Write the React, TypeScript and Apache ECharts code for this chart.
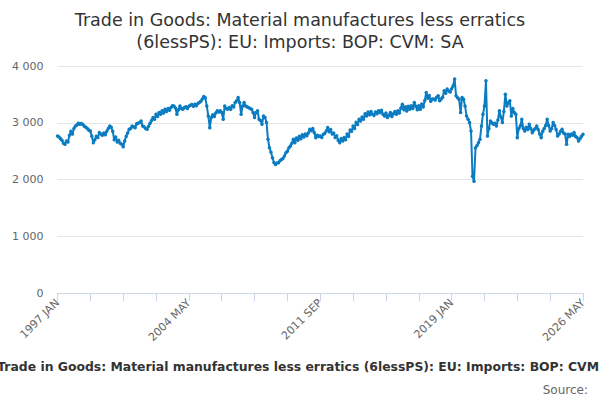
import { useRef, useEffect } from "react";
import * as echarts from "echarts";

const TITLE = "Trade in Goods: Material manufactures less erratics\n(6lessPS): EU: Imports: BOP: CVM: SA";
const SUBTITLE = "Trade in Goods: Material manufactures less erratics (6lessPS): EU: Imports: BOP: CVM: SA";

const START_YEAR = 1997;
const MONTHS = ["JAN", "FEB", "MAR", "APR", "MAY", "JUN", "JUL", "AUG", "SEP", "OCT", "NOV", "DEC"];
const Y_TICKS = [0, 1000, 2000, 3000, 4000];

// monthly values, one row per year (1997 JAN .. 2026 MAY)
const values = [
  2766, 2750, 2720, 2690, 2640, 2620, 2680, 2660, 2780, 2850, 2800, 2900,
  2943, 2960, 2990, 2975, 2985, 2970, 2940, 2920, 2900, 2870, 2855, 2760,
  2650, 2700, 2760, 2740, 2826, 2800, 2780, 2820, 2790, 2850, 2900, 2943,
  2920, 2850, 2700, 2750, 2660, 2690, 2640, 2620, 2578, 2680, 2760, 2820,
  2885, 2900, 2943, 2930, 2914, 2980, 2990, 3003, 3032, 2943, 2930, 2900,
  2885, 2940, 2990, 3040, 3092, 3060, 3150, 3110, 3180, 3150, 3209, 3170,
  3239, 3200, 3250, 3220, 3268, 3300, 3297, 3260, 3150, 3230, 3297, 3250,
  3239, 3270, 3280, 3250, 3290, 3310, 3320, 3290, 3327, 3300, 3340, 3357,
  3380, 3420, 3463, 3440, 3297, 3120, 2914, 3092, 3140, 3110, 3170, 3209,
  3190, 3209, 3180, 3062, 3297, 3250, 3239, 3270, 3239, 3300, 3280, 3357,
  3386, 3445, 3357, 3150, 3297, 3357, 3297, 3280, 3268, 3250, 3239, 3180,
  3092, 3180, 3209, 3062, 3040, 2973, 3120, 3092, 3003, 2708, 2560, 2480,
  2384, 2300, 2265, 2290, 2295, 2330, 2354, 2370, 2413, 2473, 2500, 2560,
  2590, 2640, 2708, 2650, 2730, 2690, 2760, 2720, 2790, 2750, 2800, 2770,
  2820, 2885, 2860, 2900, 2826, 2738, 2780, 2760, 2766, 2740, 2796, 2810,
  2855, 2914, 2840, 2880, 2800, 2820, 2740, 2770, 2690, 2650, 2720, 2680,
  2740, 2700, 2800, 2760, 2870, 2850, 2943, 2900, 3010, 2970, 3060, 3030,
  3100, 3060, 3160, 3120, 3190, 3140, 3200, 3150, 3130, 3190, 3160, 3209,
  3180, 3220, 3150, 3120, 3170, 3092, 3130, 3180, 3110, 3160, 3200, 3150,
  3209, 3170, 3260, 3327, 3230, 3280, 3209, 3290, 3240, 3300, 3250, 3357,
  3290, 3230, 3300, 3239, 3330, 3280, 3390, 3534, 3430, 3480, 3380, 3420,
  3420, 3400, 3450, 3475, 3386, 3420, 3450, 3563, 3520, 3593, 3560, 3540,
  3600, 3650, 3770, 3475, 3440, 3416, 3180, 3445, 3416, 3297, 3120, 3062,
  3003, 2855, 2058, 1970, 2560, 2600, 2650, 2708, 2943, 3150, 3297, 3740,
  2766, 2900, 3032, 3000, 2973, 2990, 2943, 3050, 3209, 3100, 3003, 3200,
  3504, 3297, 3350, 3386, 3120, 3250, 3180, 3150, 2738, 2900, 2943, 3062,
  2900, 2855, 2920, 2880, 2973, 2900, 2826, 2870, 2900, 2943, 2880, 2800,
  2738, 2850, 2900, 2950, 3062, 2950, 2855, 2900, 3003, 2950, 2880, 2766,
  2800, 2850, 2885, 2820, 2800, 2620, 2796, 2760, 2800, 2780, 2826, 2760,
  2740, 2678, 2720, 2760, 2796,
];

const categories = values.map(
  (_, i) => `${START_YEAR + Math.floor(i / 12)} ${MONTHS[i % 12]}`
);

const FONT = "DejaVu Sans";
const LINE_COLOR = "#0b7cc1";

export default function App() {
  const chartRef = useRef<HTMLDivElement>(null);

  useEffect(() => {
    document.body.style.margin = "0";
    if (!chartRef.current) return;
    const chart = echarts.init(chartRef.current, undefined, { renderer: "svg" });
    const option: echarts.EChartsOption = {
      animation: false,
      textStyle: { fontFamily: FONT },
      title: {
        text: TITLE,
        left: "center",
        top: 4,
        textStyle: { fontFamily: FONT, fontSize: 17.5, fontWeight: "normal", color: "#333333", lineHeight: 22 },
      },
      grid: { left: 57.5, right: 17, top: 66, bottom: 107 },
      xAxis: {
        type: "category",
        data: categories,
        boundaryGap: false,
        axisLine: { lineStyle: { color: "#ccd6eb" } },
        axisTick: { show: true, interval: 21, length: 8, lineStyle: { color: "#ccd6eb" } },
        axisLabel: { interval: 87, rotate: 45, color: "#666666", fontSize: 11, margin: 8, fontFamily: FONT },
        splitLine: { show: false },
      },
      yAxis: {
        type: "value",
        min: Y_TICKS[0],
        max: Y_TICKS[Y_TICKS.length - 1],
        interval: 1000,
        axisLine: { show: false },
        axisTick: { show: false },
        axisLabel: {
          color: "#666666",
          fontSize: 11,
          margin: 14,
          fontFamily: FONT,
          formatter: (v: number) => String(v).replace(/\B(?=(\d{3})+(?!\d))/g, " "),
        },
        splitLine: { lineStyle: { color: "#e6e6e6" } },
      },
      series: [
        {
          type: "line",
          data: values,
          symbol: "circle",
          symbolSize: 3.5,
          showAllSymbol: true,
          lineStyle: { color: LINE_COLOR, width: 2 },
          itemStyle: { color: LINE_COLOR },
        },
      ],
      graphic: [
        {
          type: "text",
          x: 312,
          y: 366,
          style: {
            text: SUBTITLE,
            fontFamily: FONT,
            fontSize: 12.4,
            fontWeight: "bold",
            fill: "#333333",
            textAlign: "center",
            textVerticalAlign: "middle",
          },
        },
        {
          type: "text",
          x: 588,
          y: 390,
          style: {
            text: "Source:",
            fontFamily: FONT,
            fontSize: 12,
            fill: "#666666",
            textAlign: "right",
            textVerticalAlign: "middle",
          },
        },
      ],
    };
    chart.setOption(option);
    return () => chart.dispose();
  }, []);

  return <div ref={chartRef} style={{ width: 600, height: 400 }} />;
}
